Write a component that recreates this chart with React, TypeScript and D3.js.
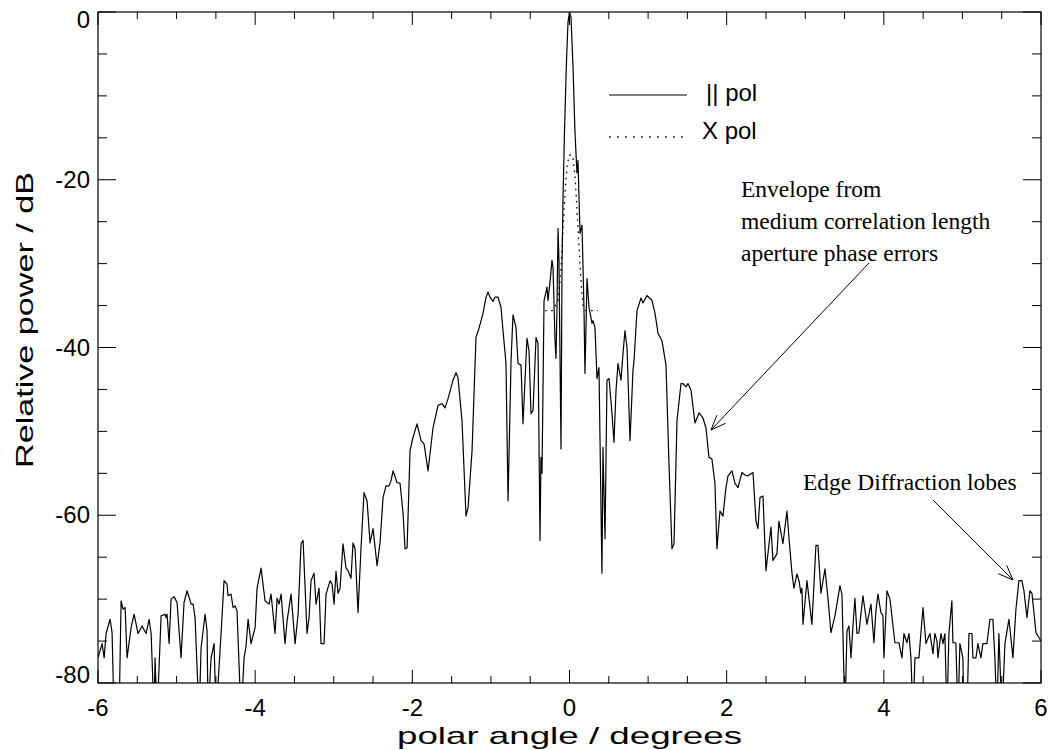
import React from 'react';
import * as d3 from 'd3';

// co-polar cut, polar angle in degrees and relative power in dB (values below -80 run off the axis)
const polAngle = [
  -6.0, -5.948, -5.922, -5.897, -5.846, -5.821, -5.795, -5.732, -5.706, -5.681, -5.655, -5.63, -5.579, -5.541,
  -5.49, -5.439, -5.388, -5.35, -5.324, -5.286, -5.274, -5.248, -5.197, -5.146, -5.134, -5.121, -5.095, -5.07,
  -5.032, -4.994, -4.943, -4.905, -4.866, -4.815, -4.79, -4.765, -4.714, -4.688, -4.637, -4.612, -4.599, -4.561,
  -4.523, -4.497, -4.434, -4.396, -4.358, -4.345, -4.307, -4.281, -4.256, -4.231, -4.18, -4.141, -4.116, -4.09,
  -4.052, -4.001, -3.976, -3.925, -3.874, -3.823, -3.798, -3.747, -3.721, -3.696, -3.67, -3.62, -3.594, -3.543,
  -3.492, -3.454, -3.416, -3.39, -3.34, -3.314, -3.289, -3.251, -3.225, -3.187, -3.162, -3.123, -3.098, -3.047,
  -3.022, -2.996, -2.971, -2.945, -2.92, -2.882, -2.844, -2.818, -2.78, -2.755, -2.729, -2.691, -2.653, -2.615,
  -2.576, -2.538, -2.5, -2.449, -2.411, -2.373, -2.335, -2.296, -2.271, -2.246, -2.195, -2.156, -2.118, -2.093,
  -2.067, -2.029, -1.991, -1.94, -1.889, -1.851, -1.8, -1.737, -1.673, -1.622, -1.584, -1.546, -1.482, -1.444,
  -1.419, -1.368, -1.317, -1.291, -1.24, -1.19, -1.151, -1.1, -1.062, -1.037, -1.011, -0.973, -0.948, -0.91,
  -0.872, -0.846, -0.808, -0.782, -0.744, -0.719, -0.681, -0.655, -0.617, -0.592, -0.541, -0.515, -0.49, -0.464,
  -0.426, -0.401, -0.375, -0.363, -0.35, -0.324, -0.286, -0.274, -0.248, -0.223, -0.21, -0.184, -0.172, -0.159,
  -0.146, -0.134, -0.108, -0.095, -0.083, -0.064, -0.041, -0.019, 0.0, 0.019, 0.045, 0.07, 0.095, 0.108,
  0.134, 0.159, 0.172, 0.184, 0.197, 0.223, 0.248, 0.286, 0.299, 0.324, 0.35, 0.375, 0.413, 0.426,
  0.452, 0.477, 0.503, 0.541, 0.566, 0.592, 0.617, 0.655, 0.681, 0.706, 0.732, 0.77, 0.808, 0.821,
  0.859, 0.91, 0.935, 0.986, 1.05, 1.088, 1.126, 1.177, 1.228, 1.266, 1.304, 1.33, 1.368, 1.419,
  1.444, 1.482, 1.508, 1.546, 1.597, 1.648, 1.698, 1.737, 1.775, 1.813, 1.851, 1.876, 1.915, 1.953,
  1.991, 2.017, 2.067, 2.106, 2.144, 2.195, 2.233, 2.271, 2.335, 2.373, 2.398, 2.424, 2.462, 2.5,
  2.564, 2.589, 2.64, 2.665, 2.716, 2.767, 2.793, 2.831, 2.856, 2.895, 2.92, 2.945, 2.958, 2.971,
  3.022, 3.085, 3.136, 3.162, 3.2, 3.251, 3.289, 3.327, 3.378, 3.442, 3.467, 3.505, 3.531, 3.556,
  3.582, 3.607, 3.632, 3.658, 3.683, 3.734, 3.785, 3.836, 3.874, 3.899, 3.925, 3.963, 3.989, 4.001,
  4.04, 4.078, 4.141, 4.192, 4.23, 4.256, 4.294, 4.32, 4.345, 4.371, 4.396, 4.447, 4.498, 4.536,
  4.548, 4.587, 4.625, 4.65, 4.676, 4.688, 4.727, 4.752, 4.777, 4.803, 4.828, 4.866, 4.879, 4.917,
  4.943, 4.968, 5.006, 5.019, 5.057, 5.083, 5.121, 5.134, 5.172, 5.197, 5.235, 5.261, 5.312, 5.35,
  5.388, 5.413, 5.439, 5.464, 5.503, 5.541, 5.592, 5.643, 5.681, 5.719, 5.757, 5.783, 5.821, 5.859,
  5.885, 5.936, 6.0,
];
const polPower = [
  -77.0, -75.3, -77.0, -74.1, -72.4, -74.0, -84, -84, -70.2, -71.2, -71.0, -77.0, -73.4, -71.8,
  -74.1, -73.2, -74.1, -72.4, -74.1, -84, -77.0, -84, -72.0, -71.8, -72.2, -71.8, -75.3, -70.0,
  -69.7, -70.4, -77.0, -70.4, -69.0, -70.6, -70.6, -72.2, -84, -75.8, -71.8, -73.8, -84, -77.0,
  -75.3, -84, -74.1, -67.8, -68.2, -69.6, -69.4, -71.0, -70.8, -71.4, -84, -77.0, -75.6, -72.4,
  -75.3, -73.4, -68.7, -66.3, -70.2, -70.6, -69.4, -74.1, -69.9, -70.6, -69.4, -75.3, -72.6, -69.4,
  -75.3, -71.8, -63.4, -63.0, -74.1, -72.2, -67.8, -66.9, -70.6, -68.7, -75.3, -75.3, -69.4, -67.8,
  -68.2, -70.6, -66.7, -69.3, -68.7, -63.4, -66.3, -66.6, -67.5, -63.3, -64.0, -71.6, -63.9, -57.3,
  -58.3, -63.3, -61.6, -66.0, -63.3, -57.9, -56.5, -56.5, -55.9, -54.7, -56.1, -56.2, -59.8, -64.0,
  -63.9, -52.3, -50.7, -49.1, -51.1, -51.5, -54.7, -49.6, -46.9, -46.7, -47.2, -46.1, -43.9, -43.0,
  -43.6, -48.7, -60.1, -59.1, -52.3, -38.8, -37.7, -35.9, -34.0, -33.4, -34.0, -34.5, -34.0, -34.0,
  -35.2, -38.0, -41.9, -58.3, -41.6, -36.1, -37.6, -41.9, -42.1, -49.1, -38.9, -40.4, -47.9, -47.5,
  -38.8, -39.5, -63.0, -53.1, -55.0, -34.4, -32.8, -34.4, -32.2, -29.6, -30.4, -39.2, -41.3, -35.2,
  -25.8, -29.6, -52.1, -29.9, -22.4, -14.4, -6.6, -1.2, 0.0, -0.6, -6.6, -14.4, -19.2, -17.7,
  -26.4, -25.4, -30.4, -35.2, -43.1, -31.8, -35.2, -37.1, -36.8, -37.6, -43.7, -42.4, -66.9, -51.9,
  -62.8, -43.9, -43.7, -47.9, -51.3, -45.1, -41.9, -43.9, -40.7, -38.0, -40.0, -51.1, -42.7, -41.6,
  -35.6, -34.1, -34.7, -33.8, -34.4, -35.9, -38.3, -39.2, -42.1, -53.9, -64.0, -63.4, -48.7, -44.3,
  -44.3, -44.7, -44.3, -45.1, -49.0, -47.8, -48.4, -49.6, -53.1, -53.3, -56.2, -64.0, -59.5, -60.1,
  -56.7, -55.3, -54.7, -56.2, -56.7, -54.9, -55.2, -55.3, -54.9, -60.7, -61.6, -57.9, -57.7, -66.6,
  -61.4, -65.4, -64.6, -60.7, -63.4, -59.5, -62.7, -66.9, -68.7, -67.0, -67.8, -69.3, -68.7, -73.0,
  -67.8, -73.0, -63.6, -63.6, -69.3, -66.4, -69.9, -74.0, -72.0, -68.4, -69.4, -84, -73.8, -73.2,
  -77.0, -73.2, -69.9, -74.1, -74.0, -69.6, -73.0, -70.6, -75.2, -71.4, -69.4, -71.6, -72.0, -77.0,
  -69.0, -70.0, -75.2, -75.2, -77.0, -74.1, -75.2, -74.1, -77.0, -84, -77.0, -77.0, -71.0, -75.3,
  -75.0, -74.1, -76.5, -74.1, -75.0, -77.0, -74.1, -75.3, -74.1, -84, -74.1, -70.2, -75.2, -75.2,
  -84, -75.3, -77.0, -84, -84, -74.1, -74.1, -77.0, -77.0, -75.3, -77.0, -75.3, -75.3, -72.4,
  -72.4, -77.0, -84, -74.1, -84, -75.3, -72.4, -77.0, -71.2, -67.8, -67.8, -69.0, -72.2, -69.0,
  -69.3, -74.0, -75.0,
];

// cross-polar cut, only drawn near boresight
const xpolAngle = [-0.31, -0.22, -0.146, -0.108, -0.083, -0.057, -0.032, -0.006, 0.019, 0.045, 0.07, 0.095, 0.121, 0.146, 0.172, 0.21, 0.36];
const xpolPower = [-35.6, -35.6, -34.5, -30.5, -26.0, -21.5, -18.5, -17.1, -17.0, -17.5, -19.5, -23.5, -28.0, -32.0, -35.0, -35.6, -35.6];

const xTicks = [-6, -4, -2, 0, 2, 4, 6];
const yTicks = [0, -20, -40, -60, -80];

const W = 1049;
const H = 750;
const margin = { left: 98, top: 12, right: 8, bottom: 67 };
const sans = "'Liberation Sans', Arial, Helvetica, sans-serif";
const serif = "'Liberation Serif', 'Times New Roman', serif";

const Arrow = ({ x1, y1, x2, y2 }: { x1: number; y1: number; x2: number; y2: number }) => {
  const a = Math.atan2(y1 - y2, x1 - x2);
  const len = 16;
  const spread = 0.38;
  const w1 = [x2 + len * Math.cos(a - spread), y2 + len * Math.sin(a - spread)];
  const w2 = [x2 + len * Math.cos(a + spread), y2 + len * Math.sin(a + spread)];
  return (
    <g stroke="#000" strokeWidth={1} fill="none">
      <line x1={x1} y1={y1} x2={x2} y2={y2} />
      <path d={`M${w1[0]},${w1[1]}L${x2},${y2}L${w2[0]},${w2[1]}`} />
    </g>
  );
};

const App = () => {
  const x = d3.scaleLinear().domain([-6, 6]).range([margin.left, W - margin.right]);
  const y = d3.scaleLinear().domain([-80, 0]).range([H - margin.bottom, margin.top]);
  const [x0, x1] = x.range();
  const [y0, y1] = y.range();

  const line = d3.line<[number, number]>().x((d) => x(d[0])).y((d) => y(d[1]));
  const pol = line(polAngle.map((a, i) => [a, polPower[i]]));
  const xpol = line(xpolAngle.map((a, i) => [a, xpolPower[i]]));

  const xMinor = d3.range(-6, 6.01, 0.5);
  const yMinor = d3.range(-80, 0.01, 5);

  // the end labels are pulled inside the frame height, the others sit centred on their tick
  const yLabelBase = (v: number) => Math.min(Math.max(y(v) + 8, y1 + 16), y0);

  return (
    <svg width={W} height={H} style={{ position: 'absolute', left: 0, top: 0, background: '#fff' }}>
      <defs>
        <clipPath id="plot">
          <rect x={x0} y={y1} width={x1 - x0} height={y0 - y1} />
        </clipPath>
      </defs>

      <g clipPath="url(#plot)" fill="none" stroke="#000">
        <path d={pol ?? ''} strokeWidth={1.2} strokeLinejoin="round" />
        <path d={xpol ?? ''} strokeWidth={1.3} strokeDasharray="1.6,4.5" />
      </g>

      {/* frame and ticks on all four sides */}
      <rect x={x0} y={y1} width={x1 - x0} height={y0 - y1} fill="none" stroke="#000" strokeWidth={1.2} />
      <g stroke="#000" strokeWidth={1}>
        {xMinor.map((v) => {
          const len = xTicks.includes(v) ? 13 : 7;
          return (
            <g key={`x${v}`}>
              <line x1={x(v)} x2={x(v)} y1={y0} y2={y0 - len} />
              <line x1={x(v)} x2={x(v)} y1={y1} y2={y1 + len} />
            </g>
          );
        })}
        {yMinor.map((v) => {
          const len = yTicks.includes(v) ? 18 : 9;
          return (
            <g key={`y${v}`}>
              <line x1={x0} x2={x0 + len} y1={y(v)} y2={y(v)} />
              <line x1={x1} x2={x1 - len} y1={y(v)} y2={y(v)} />
            </g>
          );
        })}
      </g>

      <g fontFamily={sans} fontSize={24} fill="#000">
        {xTicks.map((v) => (
          <text key={v} x={x(v)} y={y0 + 33} textAnchor="middle">
            {v}
          </text>
        ))}
        {yTicks.map((v) => (
          <text key={v} x={x0 - 8} y={yLabelBase(v)} textAnchor="end">
            {v}
          </text>
        ))}
        <text x={(x0 + x1) / 2} y={H - 6} textAnchor="middle" textLength={345} lengthAdjust="spacingAndGlyphs">
          polar angle / degrees
        </text>
        <text
          transform={`translate(33, 320) rotate(-90)`}
          textAnchor="middle"
          textLength={296}
          lengthAdjust="spacingAndGlyphs"
        >
          Relative power / dB
        </text>
      </g>

      {/* legend */}
      <g fontFamily={sans} fontSize={24} fill="#000">
        <line x1={609} x2={687} y1={95} y2={95} stroke="#000" strokeWidth={1.2} />
        <text x={706} y={101}>|| pol</text>
        <line x1={609} x2={684} y1={137} y2={137} stroke="#000" strokeWidth={1.3} strokeDasharray="1.6,6.4" />
        <text x={702} y={139}>X pol</text>
      </g>

      {/* annotations */}
      <g fontFamily={serif} fontSize={23.5} fill="#000">
        <text x={741} y={197}>Envelope from</text>
        <text x={741} y={229}>medium correlation length</text>
        <text x={741} y={261}>aperture phase errors</text>
        <text x={803} y={490}>Edge Diffraction lobes</text>
      </g>
      <Arrow x1={869} y1={263} x2={711} y2={430} />
      <Arrow x1={933} y1={500} x2={1013} y2={580} />
    </svg>
  );
};

export default App;
